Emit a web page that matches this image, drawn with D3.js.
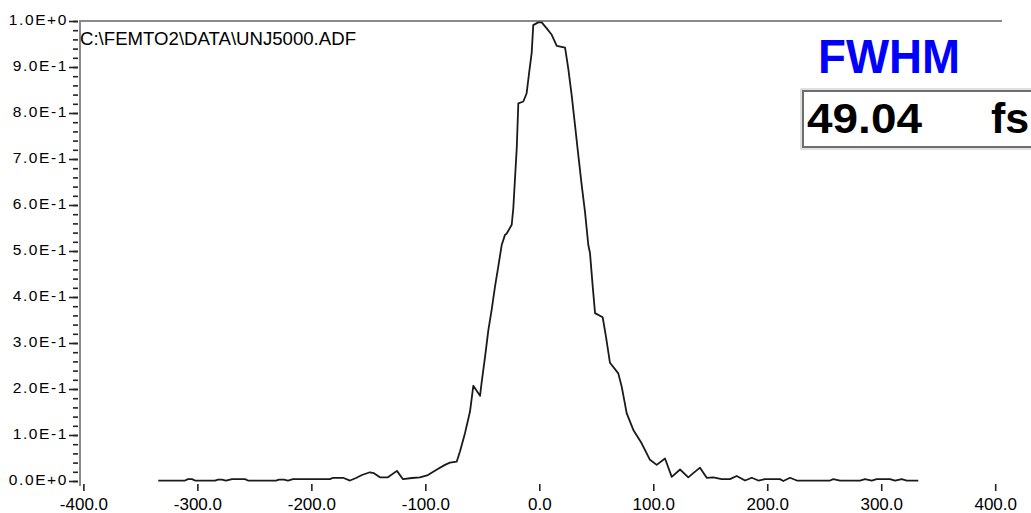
<!DOCTYPE html>
<html>
<head>
<meta charset="utf-8">
<script src="https://cdn.jsdelivr.net/npm/d3@7"></script>
<style>
  html, body { margin: 0; padding: 0; background: #ffffff; }
  svg { display: block; }
</style>
</head>
<body>
<svg id="chart" width="1031" height="513"></svg>
<script>
// ---- data ----
const timeFs = [
  -334.3, -310.9, -308.2, -304.7, -302.1, -284.5, -281.9, -278.4, -274.9, -269.6,
  -258.2, -255.6, -231.0, -228.4, -224.0, -220.5, -216.1, -183.6, -181.0, -172.2,
  -166.1, -160.8, -155.6, -148.6, -145.1, -139.8, -132.8, -124.9, -119.6, -111.7,
  -104.7, -97.7, -89.8, -82.8, -78.4, -72.5, -69.6, -65.2, -60.8, -57.9,
  -53.5, -52.0, -50.5, -47.6, -44.7, -41.8, -38.9, -36.0, -33.0, -30.1,
  -28.6, -24.2, -22.8, -21.3, -19.8, -18.4, -14.0, -11.1, -8.8, -6.7,
  -5.3, -0.9, 2.1, 6.5, 10.9, 15.3, 22.6, 25.4, 28.4, 31.3,
  34.2, 37.2, 40.1, 43.0, 44.5, 46.9, 48.9, 55.6, 58.5, 62.0,
  69.3, 72.3, 76.7, 82.5, 89.8, 97.1, 103.0, 110.3, 116.2, 123.5,
  130.7, 135.1, 141.0, 146.9, 152.7, 160.0, 167.3, 173.2, 180.5, 186.4,
  192.2, 198.0, 211.2, 214.1, 220.0, 225.9, 255.1, 258.0, 263.9, 281.4,
  285.8, 291.7, 296.0, 307.7, 312.1, 318.0, 322.4, 332.5
];
const intensity = [
  0.001, 0.001, 0.004, 0.004, 0.001, 0.001, 0.003, 0.003, 0.001, 0.004,
  0.004, 0.001, 0.001, 0.003, 0.003, 0.001, 0.004, 0.004, 0.007, 0.007,
  0.001, 0.0065, 0.013, 0.019, 0.017, 0.008, 0.008, 0.022, 0.004, 0.0065,
  0.008, 0.013, 0.025, 0.035, 0.040, 0.042, 0.064, 0.104, 0.151, 0.207,
  0.191, 0.185, 0.216, 0.270, 0.328, 0.372, 0.422, 0.466, 0.513, 0.535,
  0.538, 0.557, 0.593, 0.658, 0.723, 0.821, 0.825, 0.843, 0.890, 0.930,
  0.991, 0.997, 0.997, 0.984, 0.970, 0.946, 0.942, 0.897, 0.839, 0.774,
  0.709, 0.643, 0.585, 0.513, 0.495, 0.422, 0.365, 0.356, 0.314, 0.257,
  0.234, 0.205, 0.147, 0.111, 0.082, 0.046, 0.035, 0.049, 0.009, 0.025,
  0.008, 0.017, 0.029, 0.007, 0.008, 0.004, 0.004, 0.011, 0.001, 0.007,
  0.001, 0.004, 0.004, 0.000, 0.007, 0.001, 0.001, 0.004, 0.001, 0.001,
  0.004, 0.001, 0.004, 0.004, 0.001, 0.004, 0.001, 0.001
];
const xTicks = [-400, -300, -200, -100, 0, 100, 200, 300, 400];
const xTickLabels = ["-400.0", "-300.0", "-200.0", "-100.0", "0.0", "100.0", "200.0", "300.0", "400.0"];
const yTicks = [0, 0.1, 0.2, 0.3, 0.4, 0.5, 0.6, 0.7, 0.8, 0.9, 1.0];
const yTickLabels = ["0.0E+0", "1.0E-1", "2.0E-1", "3.0E-1", "4.0E-1", "5.0E-1", "6.0E-1", "7.0E-1", "8.0E-1", "9.0E-1", "1.0E+0"];
const yMinorTicks = d3.range(0, 51).map(i => i / 50);
const fileLabel = "C:\\FEMTO2\\DATA\\UNJ5000.ADF";
const fwhmTitle = "FWHM";
const fwhmValue = "49.04";
const fwhmUnit = "fs";

// ---- drawing ----
const svg = d3.select("#chart");
svg.append("rect").attr("width", 1031).attr("height", 513).attr("fill", "#ffffff");

const x = d3.scaleLinear().domain([-400, 400]).range([83.4, 995.2]);
const y = d3.scaleLinear().domain([0, 1]).range([481, 21]);

// frame lines
svg.append("line").attr("x1", 80).attr("x2", 1002).attr("y1", 21).attr("y2", 21)
  .attr("stroke", "#8a8a8a").attr("stroke-width", 2);
svg.append("line").attr("x1", 80).attr("x2", 80).attr("y1", 20).attr("y2", 486)
  .attr("stroke", "#8a8a8a").attr("stroke-width", 2);

// y minor ticks
const yMinor = svg.append("g").attr("transform", "translate(78,0)")
  .call(d3.axisLeft(y).tickValues(yMinorTicks).tickSize(5).tickFormat(""));
yMinor.select(".domain").remove();
yMinor.selectAll("line").attr("stroke", "#222").attr("stroke-width", 1.6);

// y major ticks + labels
const yAxis = svg.append("g").attr("transform", "translate(78,0)")
  .call(d3.axisLeft(y).tickValues(yTicks).tickSize(9).tickPadding(1)
    .tickFormat((d, i) => yTickLabels[i]));
yAxis.select(".domain").remove();
yAxis.selectAll("line").attr("stroke", "#222").attr("stroke-width", 1.6);
yAxis.selectAll("text")
  .attr("fill", "#000")
  .attr("dy", "0.2em")
  .style("font-family", "Arial, 'Liberation Sans', sans-serif")
  .style("font-size", "15.5px")
  .style("letter-spacing", "1.6px");

// x axis
const xAxis = svg.append("g").attr("transform", "translate(0,484)")
  .call(d3.axisBottom(x).tickValues(xTicks).tickSize(7).tickPadding(7)
    .tickFormat((d, i) => xTickLabels[i]));
xAxis.select(".domain").remove();
xAxis.selectAll("line").attr("stroke", "#222").attr("stroke-width", 1.6);
xAxis.selectAll("text")
  .attr("fill", "#000")
  .style("font-family", "Arial, 'Liberation Sans', sans-serif")
  .style("font-size", "17px");

// file name label
svg.append("text").attr("x", 80).attr("y", 45)
  .attr("fill", "#000")
  .style("font-family", "Arial, 'Liberation Sans', sans-serif")
  .style("font-size", "18px")
  .attr("textLength", 276).attr("lengthAdjust", "spacingAndGlyphs")
  .text(fileLabel);

// the trace
const pts = timeFs.map((t, i) => [t, intensity[i]]);
svg.append("path").datum(pts)
  .attr("fill", "none").attr("stroke", "#1a1a1a").attr("stroke-width", 1.8)
  .attr("stroke-linejoin", "round")
  .attr("d", d3.line().x(d => x(d[0])).y(d => y(d[1])));

// FWHM title
svg.append("text").attr("x", 818).attr("y", 73)
  .attr("fill", "#0000ff")
  .style("font-family", "Arial, 'Liberation Sans', sans-serif")
  .style("font-size", "48px").style("font-weight", "bold")
  .attr("textLength", 142).attr("lengthAdjust", "spacingAndGlyphs")
  .text(fwhmTitle);

// FWHM box
svg.append("rect").attr("x", 801).attr("y", 89).attr("width", 260).attr("height", 60)
  .attr("fill", "none").attr("stroke", "#c0c0c0").attr("stroke-width", 1);
svg.append("rect").attr("x", 803).attr("y", 91).attr("width", 260).attr("height", 56)
  .attr("fill", "#ffffff").attr("stroke", "#6e6e6e").attr("stroke-width", 2);

svg.append("text").attr("x", 807).attr("y", 133)
  .attr("fill", "#000")
  .style("font-family", "Arial, 'Liberation Sans', sans-serif")
  .style("font-size", "43px").style("font-weight", "bold")
  .attr("textLength", 115).attr("lengthAdjust", "spacingAndGlyphs")
  .text(fwhmValue);
svg.append("text").attr("x", 991).attr("y", 133)
  .attr("fill", "#000")
  .style("font-family", "Arial, 'Liberation Sans', sans-serif")
  .style("font-size", "43px").style("font-weight", "bold")
  .text(fwhmUnit);
</script>
</body>
</html>
